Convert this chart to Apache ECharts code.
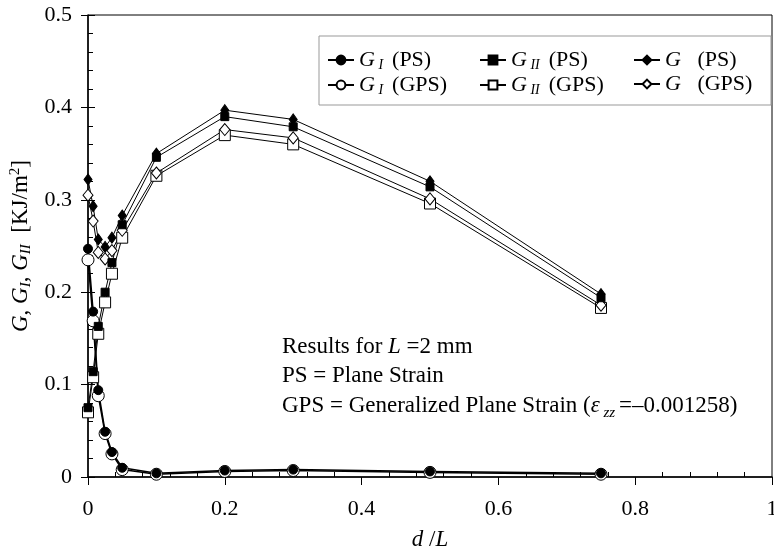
<!DOCTYPE html>
<html>
<head>
<meta charset="utf-8">
<script src="https://cdn.jsdelivr.net/npm/echarts@6/dist/echarts.min.js"></script>
<style>
  html, body { margin: 0; padding: 0; background: #fff; }
  #chart { width: 774px; height: 552px; }
</style>
</head>
<body>
<div id="chart"></div>
<script>
// Normalised crack position d/L
const dOverL = [0, 0.0075, 0.015, 0.025, 0.035, 0.05, 0.1, 0.2, 0.3, 0.5, 0.75];

// Energy release rates [KJ/m^2], plane strain
const giPS  = [0.247, 0.179, 0.094, 0.049, 0.027, 0.010, 0.004, 0.007, 0.008, 0.006, 0.004];
const giiPS = [0.075, 0.114, 0.163, 0.200, 0.232, 0.273, 0.346, 0.390, 0.379, 0.314, 0.194];
const gPS   = [0.322, 0.293, 0.257, 0.249, 0.259, 0.283, 0.350, 0.397, 0.387, 0.320, 0.198];

// Energy release rates [KJ/m^2], generalized plane strain
const giGPS  = [0.235, 0.169, 0.088, 0.047, 0.025, 0.008, 0.003, 0.006, 0.007, 0.005, 0.003];
const giiGPS = [0.070, 0.108, 0.155, 0.189, 0.220, 0.259, 0.326, 0.370, 0.360, 0.296, 0.183];
const gGPS   = [0.305, 0.277, 0.243, 0.236, 0.245, 0.267, 0.329, 0.376, 0.367, 0.301, 0.186];

// Axis ticks
const xTicks = { min: 0, max: 1, interval: 0.2 };
const yTicks = { min: 0, max: 0.5, interval: 0.1 };

const FONT = '"Liberation Serif", "Times New Roman", serif';

const pairs = ys => dOverL.map((x, i) => [x, ys[i]]);

const richBase = {
  n:   { fontFamily: FONT, fontSize: 22, color: '#000', lineHeight: 24 },
  i:   { fontFamily: FONT, fontSize: 22, fontStyle: 'italic', color: '#000', lineHeight: 24 },
  sub: { fontFamily: FONT, fontSize: 14, fontStyle: 'italic', color: '#000', verticalAlign: 'bottom', lineHeight: 14 },
  sup: { fontFamily: FONT, fontSize: 14, color: '#000', verticalAlign: 'top', lineHeight: 14 }
};

const titleRich = {
  n:   { fontFamily: FONT, fontSize: 23, color: '#000', lineHeight: 26 },
  i:   { fontFamily: FONT, fontSize: 23, fontStyle: 'italic', color: '#000', lineHeight: 26 },
  sub: { fontFamily: FONT, fontSize: 15, fontStyle: 'italic', color: '#000', verticalAlign: 'bottom', lineHeight: 15 },
  sup: { fontFamily: FONT, fontSize: 15, color: '#000', verticalAlign: 'top', lineHeight: 15 }
};

const legendText = {
  'GI_PS':   '{i|G}{sub| I }{n| (PS)}',
  'GII_PS':  '{i|G}{sub| II }{n| (PS)}',
  'G_PS':    '{i|G}{n|   (PS)}',
  'GI_GPS':  '{i|G}{sub| I }{n| (GPS)}',
  'GII_GPS': '{i|G}{sub| II }{n| (GPS)}',
  'G_GPS':   '{i|G}{n|   (GPS)}'
};

// The GPS curves are bound to the second (tick-only) axis pair, which spans the same range
function makeSeries(name, ys, symbol, size, filled, width, axisIdx) {
  return {
    name: name,
    type: 'line',
    xAxisIndex: axisIdx,
    yAxisIndex: axisIdx,
    data: pairs(ys),
    symbol: symbol,
    symbolSize: size,
    showAllSymbol: true,
    lineStyle: { color: '#000', width: width },
    itemStyle: {
      color: filled ? '#000' : '#fff',
      borderColor: '#000',
      borderWidth: 1
    },
    emphasis: { disabled: true },
    animation: false
  };
}

function makeLegend(names, left) {
  return {
    data: names,
    orient: 'vertical',
    left: left,
    top: 44,
    itemWidth: 26,
    itemHeight: 11,
    itemGap: 2,
    formatter: n => legendText[n],
    textStyle: { rich: richBase, padding: [0, 0, 0, 0] },
    selectedMode: false
  };
}

const chart = echarts.init(document.getElementById('chart'), null, { renderer: 'canvas' });

const option = {
  backgroundColor: '#fff',
  animation: false,
  grid: {
    left: 88, right: 2, top: 15, bottom: 75,
    outerBoundsMode: 'none',
    containLabel: false,
    show: true, borderColor: '#000', borderWidth: 1
  },
  legend: [
    makeLegend(['GI_PS', 'GI_GPS'], 322),
    makeLegend(['GII_PS', 'GII_GPS'], 474),
    makeLegend(['G_PS', 'G_GPS'], 628)
  ],
  graphic: [
    {
      type: 'rect',
      shape: { x: 319, y: 36, width: 452, height: 69 },
      style: { fill: '#fff', stroke: '#999', lineWidth: 1 },
      z: 0
    },
    {
      type: 'text',
      left: 282,
      top: 335,
      z: 10,
      style: {
        text: '{n|Results for }{i|L}{n| =2 mm}\n{n|PS = Plane Strain}\n{n|GPS = Generalized Plane Strain (}{i|ε}{sub| zz }{n|=\u20130.001258)}',
        rich: {
          n:   { fontFamily: FONT, fontSize: 23, fill: '#000', lineHeight: 29.5 },
          i:   { fontFamily: FONT, fontSize: 23, fontStyle: 'italic', fill: '#000', lineHeight: 29.5 },
          sub: { fontFamily: FONT, fontSize: 15, fontStyle: 'italic', fill: '#000', verticalAlign: 'bottom', lineHeight: 20 }
        }
      }
    }
  ],
  xAxis: [
    {
      type: 'value',
      min: xTicks.min, max: xTicks.max, interval: xTicks.interval,
      position: 'bottom',
      axisLine: { show: true, onZero: false, lineStyle: { color: '#000', width: 1.5 } },
      axisTick: { show: true, inside: false, length: 8, lineStyle: { color: '#000', width: 1 } },
      axisLabel: { color: '#000', fontFamily: FONT, fontSize: 22, margin: 21 },
      splitLine: { show: false },
      name: '{i|d}{n| /}{i|L}',
      nameLocation: 'middle',
      nameGap: 50,
      nameTextStyle: { rich: titleRich }
    },
    {
      type: 'value',
      min: xTicks.min, max: xTicks.max, interval: xTicks.interval,
      position: 'bottom',
      axisLine: { show: false, onZero: false },
      axisTick: { show: false, inside: true },
      minorTick: { show: true, splitNumber: 5, length: 5, lineStyle: { color: '#000', width: 1 } },
      axisLabel: { show: false },
      splitLine: { show: false }
    }
  ],
  yAxis: [
    {
      type: 'value',
      min: yTicks.min, max: yTicks.max, interval: yTicks.interval,
      position: 'left',
      axisLine: { show: true, onZero: false, lineStyle: { color: '#000', width: 1.5 } },
      axisTick: { show: true, inside: false, length: 7, lineStyle: { color: '#000', width: 1 } },
      axisLabel: { color: '#000', fontFamily: FONT, fontSize: 22, margin: 16 },
      splitLine: { show: false },
      name: '{i|G}{n|, }{i|G}{sub|I}{n|, }{i|G}{sub|II}{n|  [KJ/m}{sup|2}{n|]}',
      nameLocation: 'middle',
      nameRotate: 90,
      nameGap: 54,
      nameTextStyle: { rich: titleRich }
    },
    {
      type: 'value',
      min: yTicks.min, max: yTicks.max, interval: yTicks.interval,
      position: 'left',
      axisLine: { show: false, onZero: false },
      axisTick: { show: true, inside: true, length: 7, lineStyle: { color: '#000', width: 1 } },
      minorTick: { show: true, splitNumber: 5, length: 5, lineStyle: { color: '#000', width: 1 } },
      axisLabel: { show: false },
      splitLine: { show: false }
    }
  ],
  series: [
    makeSeries('GII_GPS', giiGPS, 'rect', 11, false, 1, 1),
    makeSeries('G_GPS', gGPS, 'diamond', [10, 12], false, 1, 1),
    makeSeries('GI_GPS', giGPS, 'circle', 12, false, 1.5, 1),
    makeSeries('GII_PS', giiPS, 'rect', 8, true, 1, 0),
    makeSeries('G_PS', gPS, 'diamond', [8, 11], true, 1, 0),
    makeSeries('GI_PS', giPS, 'circle', 9, true, 1.5, 0)
  ]
};

chart.setOption(option);
</script>
</body>
</html>
